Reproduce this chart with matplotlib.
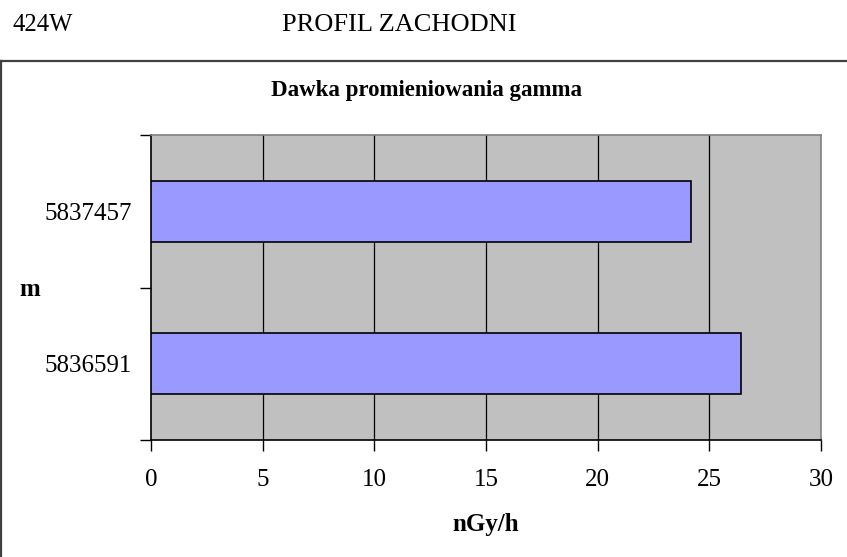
import matplotlib
matplotlib.use("Agg")
import matplotlib.pyplot as plt
from matplotlib.lines import Line2D
from matplotlib.ticker import FixedLocator, NullFormatter

categories = ["5836591", "5837457"]
values = [26.42, 24.18]
xticks = [0, 5, 10, 15, 20, 25, 30]

W, H = 847, 557
plt.rcParams['font.family'] = ['Liberation Serif', 'DejaVu Serif']
fig = plt.figure(figsize=(W / 100, H / 100), dpi=100)

def fx(x):
    return x / W

def fy(y):
    return 1 - y / H

# header
fig.text(fx(12), fy(31), "424W", fontsize=17.7, ha='left', va='baseline')
fig.text(fx(282), fy(31), "PROFIL ZACHODNI", fontsize=19, ha='left', va='baseline')

# box border
fig.add_artist(Line2D([0, 1], [fy(61), fy(61)], transform=fig.transFigure, color='#404040', lw=1.6))
fig.add_artist(Line2D([fx(1), fx(1)], [fy(61), 0], transform=fig.transFigure, color='#404040', lw=1.6))

ax = fig.add_axes([fx(151), fy(440), fx(821) - fx(151), fy(135) - fy(440)])
ax.set_facecolor('#C0C0C0')
ypos = list(range(len(categories)))
ax.barh(ypos, values, height=0.4, color='#9999FF', edgecolor='black', linewidth=1.2, zorder=3)
ax.set_xlim(0, 30)
ax.set_ylim(-0.5, len(categories) - 0.5)
ax.set_xticks(xticks)
ax.set_xticklabels([str(t) for t in xticks])
for t in xticks[1:-1]:
    ax.axvline(t, color='black', lw=0.9, zorder=1)

ax.yaxis.set_major_locator(FixedLocator([-0.5, 0.5, 1.5]))
ax.yaxis.set_major_formatter(NullFormatter())
ax.set_yticks(ypos, minor=True)
ax.set_yticklabels(categories, minor=True)
ax.tick_params(axis='y', which='major', length=8, width=1, color='black', direction='out')
ax.tick_params(axis='y', which='minor', length=0, pad=14, labelsize=18)
ax.tick_params(axis='x', length=8, width=1, color='black', direction='out', pad=13, labelsize=18)

for s in ['left', 'bottom']:
    ax.spines[s].set_color('black')
    ax.spines[s].set_linewidth(1.2)
for s in ['top', 'right']:
    ax.spines[s].set_color('#808080')
    ax.spines[s].set_linewidth(1.2)

fig.text(fx(426), fy(96), "Dawka promieniowania gamma", fontsize=16.5, fontweight='bold', ha='center', va='baseline')
fig.text(fx(30), fy(290), "m", fontsize=18, fontweight='bold', ha='center', va='center')
fig.text(fx(486), fy(525), "nGy/h", fontsize=18, fontweight='bold', ha='center', va='center')

fig.savefig("out.png", dpi=100)
